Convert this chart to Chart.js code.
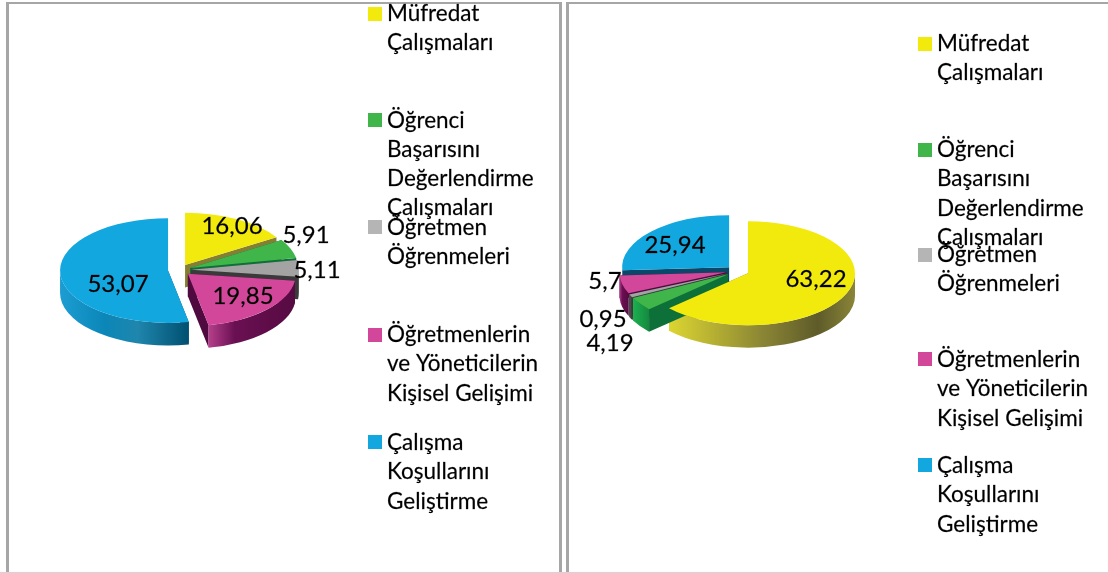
<!DOCTYPE html>
<html><head><meta charset="utf-8">
<script src="https://cdn.jsdelivr.net/npm/chart.js@4"></script>
<style>
html,body{margin:0;padding:0;background:#fff;width:1108px;height:573px;overflow:hidden}
canvas{position:absolute;top:0}
.frame{position:absolute;box-sizing:border-box;top:2px;height:571px;border:solid #a6a6a6;border-width:2px 3px 0 3px}
.base{position:absolute;left:0;top:572px;width:1108px;height:1px;background:#d4d4d4}
</style></head><body>
<div class="frame" style="left:6px;width:556px"></div>
<div class="frame" style="left:566px;width:545px"></div>
<div class="base"></div>
<canvas id="left" width="560" height="573" style="left:0"></canvas>
<canvas id="right" width="548" height="573" style="left:560px"></canvas>
<script>
const categories = [
  ['Müfredat','Çalışmaları'],
  ['Öğrenci','Başarısını','Değerlendirme','Çalışmaları'],
  ['Öğretmen','Öğrenmeleri'],
  ['Öğretmenlerin','ve Yöneticilerin','Kişisel Gelişimi'],
  ['Çalışma','Koşullarını','Geliştirme']
];
const leftValues  = [16.06, 5.91, 5.11, 19.85, 53.07];
const rightValues = [63.22, 4.19, 0.95, 5.7, 25.94];

const topColors  = ['#f2ea0c','#3fb54a','#a3a3a3','#d2479a','#13a7e0'];
const legendColors = ['#f2ea0c','#3fb54a','#b5b5b5','#d2479a','#13a7e0'];
const cutColors  = ['#857f33','#0d7038','#3a3a3a','#4f0a40','#0a4768'];
const wallStops = [
  [[0,'#dcd631'],[0.5,'#8b8634'],[0.8,'#5e5b2a'],[1,'#8a8538']],
  [[0,'#1cb04f'],[1,'#14893f']],
  [[0,'#555555'],[1,'#3a3a3a']],
  [[0,'#b63f8c'],[0.3,'#6a1052'],[1,'#560a42']],
  [[0,'#1c9dd2'],[0.35,'#0b86b8'],[0.6,'#1f86ad'],[1,'#005070']]
];

const LEGEND_FONT = '22.5px Lato';
const LABEL_FONT = '24px Lato';
const SQUASH = 0.485, DEPTH = 22.5, EXPLODE = 11.5;

const panels = [
  { id:'left', values:leftValues, cx:179.5, cy:270, r:108,
    labelAt:[[232,226],[306,235],[317,270],[243,296],[118,284]],
    legendX:368, lineH:29.2,
    legendY:[14,120.5,228,335,443], markerY:[14,120,227,335,442] },
  { id:'right', values:rightValues, cx:177.5, cy:271, r:107,
    labelAt:[[256,279],[50,343],[43,319],[45,281],[115,245]],
    legendX:358, lineH:29.2,
    legendY:[44,150,255,360,466], markerY:[44,150,255,359,465] }
];

const pie3d = {
  id:'pie3d',
  beforeDatasetsDraw(chart){
    const p = chart.options.plugins.pie3d.panel, ctx = chart.ctx;
    const arcs = chart.getDatasetMeta(0).data;
    // explode every slice along its own mid angle
    arcs.forEach(a=>{
      const m=(a.startAngle+a.endAngle)/2;
      a.x=p.cx+Math.cos(m)*EXPLODE;
      a.y=p.cy+Math.sin(m)*EXPLODE;
    });
    const order = arcs.map((a,i)=>i).sort((i,j)=>arcs[i].y-arcs[j].y);
    for(const i of order){
      const a = arcs[i], s=a.startAngle, e=a.endAngle, R=a.outerRadius;
      const ax=a.x, ay=p.cy+(a.y-p.cy)*SQUASH, ry=R*SQUASH;
      ctx.save();
      ctx.fillStyle=cutColors[i];
      for(const t of [s,e]){
        const bx=ax+Math.cos(t)*R, by=ay+Math.sin(t)*ry;
        ctx.beginPath();
        ctx.moveTo(ax,ay);ctx.lineTo(bx,by);ctx.lineTo(bx,by+DEPTH);ctx.lineTo(ax,ay+DEPTH);ctx.closePath();
        ctx.fill();
      }
      const from=Math.max(s,0), to=Math.min(e,Math.PI);
      if(to>from){
        const x0=ax+Math.cos(to)*R, x1=ax+Math.cos(from)*R;
        const g=ctx.createLinearGradient(x0,0,x1,0);
        wallStops[i].forEach(st=>g.addColorStop(st[0],st[1]));
        ctx.fillStyle=g;
        ctx.beginPath();
        ctx.ellipse(ax,ay,R,ry,0,from,to,false);
        ctx.ellipse(ax,ay+DEPTH,R,ry,0,to,from,true);
        ctx.closePath();
        ctx.fill();
      }
      ctx.restore();
    }
  },
  beforeDatasetDraw(chart){
    const p = chart.options.plugins.pie3d.panel, ctx = chart.ctx;
    ctx.save();
    ctx.translate(0,p.cy);ctx.scale(1,SQUASH);ctx.translate(0,-p.cy);
  },
  afterDatasetDraw(chart){ chart.ctx.restore(); },
  afterDraw(chart){
    const p = chart.options.plugins.pie3d.panel, ctx = chart.ctx;
    const labels = chart.data.labels, vals = chart.data.datasets[0].data;
    const put=(t,x,y)=>{ctx.fillText(t,x,y);ctx.strokeText(t,x,y);};
    ctx.save();
    ctx.textBaseline='middle';
    ctx.fillStyle='#000';
    ctx.strokeStyle='rgba(0,0,0,0.55)';
    ctx.lineWidth=0.35;
    ctx.textAlign='center';
    ctx.font=LABEL_FONT;
    vals.forEach((v,i)=>put(String(v).replace('.',','),p.labelAt[i][0],p.labelAt[i][1]));
    ctx.textAlign='left';
    ctx.font=LEGEND_FONT;
    labels.forEach((lines,i)=>{
      ctx.fillStyle=legendColors[i];
      ctx.fillRect(p.legendX,p.markerY[i]-7,14,14);
      ctx.fillStyle='#000';
      lines.forEach((t,k)=>put(t,p.legendX+19,p.legendY[i]+k*p.lineH));
    });
    ctx.restore();
  }
};

panels.forEach(p=>{
  const el=document.getElementById(p.id);
  const S=2*p.r;
  new Chart(el,{
    type:'pie',
    plugins:[pie3d],
    data:{labels:categories,datasets:[{data:p.values,backgroundColor:topColors,borderWidth:0,clip:false}]},
    options:{
      responsive:false,animation:false,
      layout:{padding:{left:p.cx-S/2,right:el.width-p.cx-S/2,top:p.cy-S/2,bottom:el.height-p.cy-S/2}},
      plugins:{legend:{display:false},tooltip:{enabled:false},title:{display:false},pie3d:{panel:p}}
    }
  });
});
</script>
</body></html>
